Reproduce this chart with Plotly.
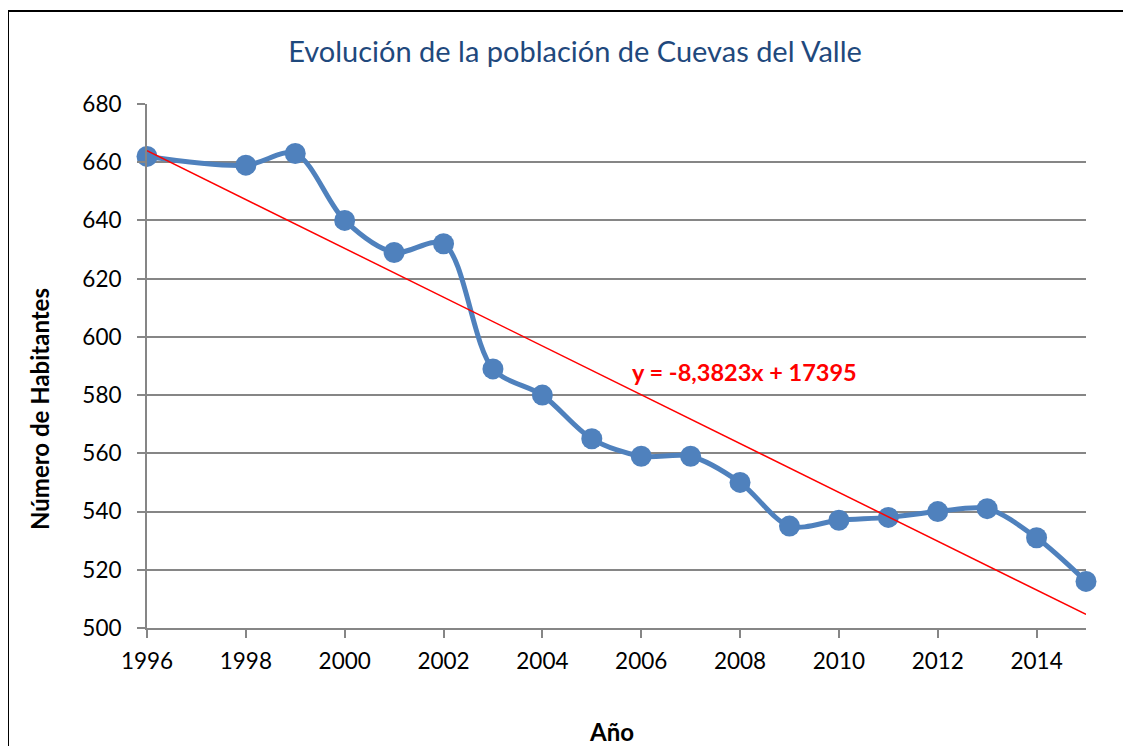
import plotly.graph_objects as go

years = [1996, 1998, 1999, 2000, 2001, 2002, 2003, 2004, 2005, 2006, 2007,
         2008, 2009, 2010, 2011, 2012, 2013, 2014, 2015]
population = [662, 659, 663, 640, 629, 632, 589, 580, 565, 559, 559,
              550, 535, 537, 538, 540, 541, 531, 516]
trend_slope = -8.3823
trend_intercept = 17395
trend_label = "y = -8,3823x + 17395"
x_ticks = list(range(1996, 2016, 2))
y_ticks = list(range(500, 681, 20))

FONT = "Lato, 'Liberation Sans', sans-serif"
GRID = "#868686"

trend_x = [years[0], years[-1]]
trend_y = [trend_slope * x + trend_intercept for x in trend_x]

fig = go.Figure()
fig.add_trace(go.Scatter(
    x=years, y=population, mode="lines+markers",
    line=dict(color="#4F81BD", width=5, shape="spline", smoothing=0.9),
    marker=dict(color="#4F81BD", size=21),
    cliponaxis=False, showlegend=False, hoverinfo="x+y"))
fig.add_trace(go.Scatter(
    x=trend_x, y=trend_y, mode="lines",
    line=dict(color="#FF0000", width=1.5),
    cliponaxis=False, showlegend=False))

OFF = 8  # body margin of the page
W, H = 1131 - OFF, 746 - OFF
PL, PR, PT, PB = 147, 1086, 104, 628  # plot area in page pixels
L, R, T, B = PL - OFF, W - (PR - OFF), PT - OFF, H - (PB - OFF)
pw, ph = W - L - R, H - T - B

def px(xp):
    return (xp - PL) / pw

def py(yp):
    return (PB - yp) / ph

border = dict(color="black", width=2)

fig.update_layout(
    width=W, height=H,
    margin=dict(l=L, r=R, t=T, b=B, pad=0),
    paper_bgcolor="white", plot_bgcolor="white",
    font=dict(family=FONT, color="black"),
    title=dict(text="Evolución de la población de Cuevas del Valle",
               font=dict(family=FONT, size=29, color="#1F497D"),
               x=(575 - OFF) / W, xanchor="center", y=1 - (52 - OFF) / H, yanchor="middle"),
    xaxis=dict(range=[1996, 2015], tickmode="array", tickvals=x_ticks,
               showgrid=False, zeroline=False,
               showline=True, linecolor=GRID, linewidth=2,
               ticks="outside", ticklen=8, tickwidth=2, tickcolor=GRID,
               ticklabelstandoff=4,
               tickfont=dict(family=FONT, size=22.5, color="black")),
    yaxis=dict(range=[500, 680], tickmode="array", tickvals=y_ticks,
               showgrid=True, gridcolor=GRID, gridwidth=1.5, zeroline=False,
               showline=True, linecolor=GRID, linewidth=2,
               ticks="outside", ticklen=8, tickwidth=2, tickcolor=GRID,
               ticklabelstandoff=11,
               tickfont=dict(family=FONT, size=22.5, color="black")),
    annotations=[
        dict(text="<b>" + trend_label + "</b>", xref="x", yref="y",
             x=2008.1, y=587.9, showarrow=False, xanchor="center", yanchor="middle",
             font=dict(family=FONT, size=23.5, color="#FF0000")),
        dict(text="<b>Año</b>", xref="paper", yref="paper",
             x=px(611), y=py(731), showarrow=False, xanchor="center", yanchor="middle",
             font=dict(family=FONT, size=24, color="black")),
        dict(text="<b>Número de Habitantes</b>", xref="paper", yref="paper",
             x=px(40), y=py(409), showarrow=False, xanchor="center", yanchor="middle",
             textangle=-90, font=dict(family=FONT, size=24, color="black")),
    ],
    shapes=[
        dict(type="line", xref="paper", yref="paper",
             x0=px(7), x1=px(1200), y0=py(11), y1=py(11), line=border, layer="above"),
        dict(type="line", xref="paper", yref="paper",
             x0=px(8), x1=px(8), y0=py(10), y1=py(800), line=border, layer="above"),
    ],
)

fig.write_html("out.html")
